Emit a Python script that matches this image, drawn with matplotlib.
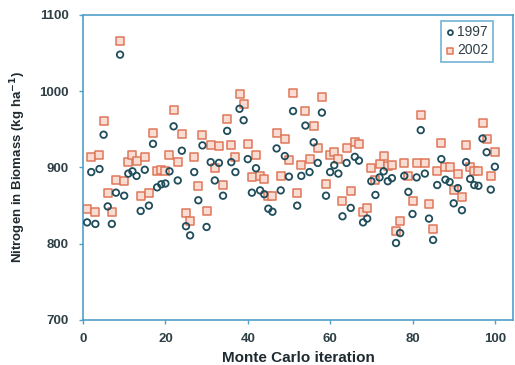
import matplotlib
matplotlib.use("Agg")
import matplotlib.pyplot as plt
import numpy as np

iteration = list(range(1, 101))

n_1997 = [828, 894, 826, 898, 943, 849, 826, 867, 1048, 863,
          892, 895, 889, 843, 897, 850, 931, 874, 878, 879,
          895, 954, 883, 922, 823, 811, 894, 857, 929, 822,
          907, 883, 906, 863, 948, 907, 894, 977, 962, 911,
          867, 899, 870, 865, 846, 842, 925, 870, 915, 888,
          974, 850, 889, 955, 894, 933, 906, 972, 863, 894,
          903, 892, 836, 906, 847, 914, 909, 828, 833, 882,
          864, 887, 895, 882, 886, 801, 814, 889, 868, 839,
          887, 949, 892, 833, 805, 877, 911, 884, 881, 853,
          873, 844, 907, 885, 877, 876, 938, 920, 871, 901]

n_2002 = [845, 914, 842, 917, 961, 866, 842, 884, 1066, 882,
          907, 916, 909, 863, 914, 866, 945, 895, 897, 895,
          916, 975, 907, 944, 840, 830, 914, 876, 943, 843,
          930, 899, 928, 877, 964, 929, 914, 997, 983, 931,
          887, 916, 889, 885, 862, 862, 945, 889, 937, 910,
          998, 866, 903, 974, 911, 954, 925, 993, 879, 916,
          920, 911, 856, 926, 869, 933, 931, 842, 847, 899,
          883, 904, 915, 902, 903, 817, 830, 906, 889, 856,
          906, 969, 906, 852, 820, 895, 932, 901, 901, 870,
          892, 861, 929, 901, 896, 896, 959, 938, 889, 920]

spine_color = "#4f9fc9"
text_color = "#2f3f46"
circle_color = "#1f4d5c"
square_edge = "#e0765a"
square_face = "#f9ddd2"

plt.rcParams['font.family'] = ['Liberation Sans', 'DejaVu Sans']

fig = plt.figure(figsize=(5.15, 3.65), dpi=100)
ax = fig.add_axes([83 / 515, 1 - 320 / 365, (513 - 83) / 515, (320 - 15) / 365])

ax.scatter(iteration, n_2002, marker='s', s=32, facecolors=square_face,
           edgecolors=square_edge, linewidths=1.1, label='2002', zorder=2)
ax.scatter(iteration, n_1997, marker='o', s=22, facecolors='none',
           edgecolors=circle_color, linewidths=1.3, label='1997', zorder=3)

ax.set_xlim(0, 104.4)
ax.set_ylim(700, 1100)
ax.set_xticks([0, 20, 40, 60, 80, 100])
ax.set_yticks([700, 800, 900, 1000, 1100])

for sp in ax.spines.values():
    sp.set_color(spine_color)
    sp.set_linewidth(1.2)

ax.tick_params(axis='both', colors=spine_color, length=3, width=1,
               labelcolor=text_color, labelsize=9.5)
ax.tick_params(axis='x', pad=6)
ax.tick_params(axis='y', pad=7)
for lbl in ax.get_xticklabels() + ax.get_yticklabels():
    lbl.set_fontweight('bold')

ax.set_xlabel("Monte Carlo iteration", fontsize=11, fontweight='bold',
              color='#1e2a30', labelpad=5)
ax.set_ylabel("Nitrogen in Biomass (kg ha$^{\\mathbf{-1}}$)", fontsize=9.5,
              fontweight='bold', color='#1e2a30', labelpad=8)

handles, labels = ax.get_legend_handles_labels()
leg = ax.legend(handles[::-1], labels[::-1], loc='upper right',
                bbox_to_anchor=(0.953, 0.98), fontsize=10,
                frameon=True, fancybox=False, handlelength=0.7,
                handletextpad=0.15, borderpad=0.3, labelspacing=0.3,
                borderaxespad=0, markerscale=0.75)
leg.get_frame().set_edgecolor(spine_color)
leg.get_frame().set_linewidth(1.2)
for t in leg.get_texts():
    t.set_color(text_color)

fig.savefig("out.png", dpi=100)
